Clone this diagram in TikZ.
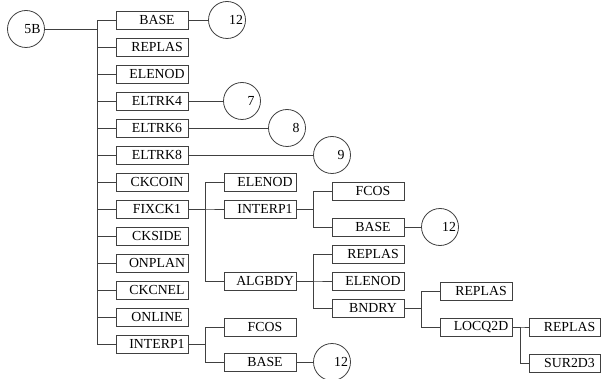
\documentclass[tikz,border=0pt]{standalone}
\usepackage{fontspec}
\setmainfont{Liberation Serif}
\begin{document}
\begin{tikzpicture}[x=1pt,y=-1pt,
  box/.style={draw=black!75,line width=0.8pt,minimum width=72pt,minimum height=18pt,inner sep=0pt,
    font=\fontsize{13.8}{13.8}\selectfont,execute at begin node={\hspace*{10pt}}},
  refbase/.style={draw=black!75,line width=0.8pt,circle,minimum size=37pt,inner sep=0pt,
    font=\fontsize{13.8}{13.8}\selectfont},
  ref/.style={refbase,execute at begin node={\hspace*{18pt}}},
  rootref/.style={refbase,execute at begin node={\hspace*{13pt}}},
  ln/.style={draw=black!75,line width=0.8pt}]
\useasboundingbox (0,0) rectangle (601,379);
% root
\node[rootref] (r) at (26,29) {5B};
% main column
\node[box] (m1) at (152,20) {BASE};
\node[box] (m2) at (152,47) {REPLAS};
\node[box] (m3) at (152,74) {ELENOD};
\node[box] (m4) at (152,101) {ELTRK4};
\node[box] (m5) at (152,128) {ELTRK6};
\node[box] (m6) at (152,155) {ELTRK8};
\node[box] (m7) at (152,182) {CKCOIN};
\node[box] (m8) at (152,209) {FIXCK1};
\node[box] (m9) at (152,236) {CKSIDE};
\node[box] (m10) at (152,263) {ONPLAN};
\node[box] (m11) at (152,290) {CKCNEL};
\node[box] (m12) at (152,317) {ONLINE};
\node[box] (m13) at (152,344) {INTERP1};
\foreach \i in {1,...,13}{
  \draw[ln] (r.east) -| ([xshift=-18pt]m\i.west) -- (m\i.west);
}
% circles off main column
\node[ref] (c12a) at (227,20) {12};
\node[ref] (c7) at (242,101) {7};
\node[ref] (c8) at (287,128) {8};
\node[ref] (c9) at (332,155) {9};
\draw[ln] (m1.east) -- (c12a.west);
\draw[ln] (m4.east) -- (c7.west);
\draw[ln] (m5.east) -- (c8.west);
\draw[ln] (m6.east) -- (c9.west);
% level 2 under FIXCK1
\node[box] (f1) at (260,182) {ELENOD};
\node[box] (f2) at (260,209) {INTERP1};
\node[box] (f3) at (260,281) {ALGBDY};
\foreach \c in {f1,f2,f3}{
  \draw[ln] (m8.east) -| ([xshift=-18pt]\c.west) -- (\c.west);
}
% level 2 under INTERP1 (main)
\node[box] (i1) at (260,327) {FCOS};
\node[box] (i2) at (260,362) {BASE};
\foreach \c in {i1,i2}{
  \draw[ln] (m13.east) -| ([xshift=-18pt]\c.west) -- (\c.west);
}
\node[ref] (c12d) at (332,362) {12};
\draw[ln] (i2.east) -- (c12d.west);
% level 3 under INTERP1 (f2)
\node[box] (g1) at (368,191) {FCOS};
\node[box] (g2) at (368,227) {BASE};
\foreach \c in {g1,g2}{
  \draw[ln] (f2.east) -| ([xshift=-18pt]\c.west) -- (\c.west);
}
\node[ref] (c12b) at (440,227) {12};
\draw[ln] (g2.east) -- (c12b.west);
% level 3 under ALGBDY
\node[box] (a1) at (368,254) {REPLAS};
\node[box] (a2) at (368,281) {ELENOD};
\node[box] (a3) at (368,308) {BNDRY};
\foreach \c in {a1,a2,a3}{
  \draw[ln] (f3.east) -| ([xshift=-18pt]\c.west) -- (\c.west);
}
% level 4 under BNDRY
\node[box] (b1) at (476,291) {REPLAS};
\node[box] (b2) at (476,327) {LOCQ2D};
\foreach \c in {b1,b2}{
  \draw[ln] (a3.east) -| ([xshift=-18pt]\c.west) -- (\c.west);
}
% level 5 under LOCQ2D
\node[box,minimum width=71pt] (l1) at (564.5,327) {REPLAS};
\node[box,minimum width=71pt] (l2) at (564.5,363) {SUR2D3};
\foreach \c in {l1,l2}{
  \draw[ln] (b2.east) -| ([xshift=-8pt]\c.west) -- (\c.west);
}
\end{tikzpicture}
\end{document}
